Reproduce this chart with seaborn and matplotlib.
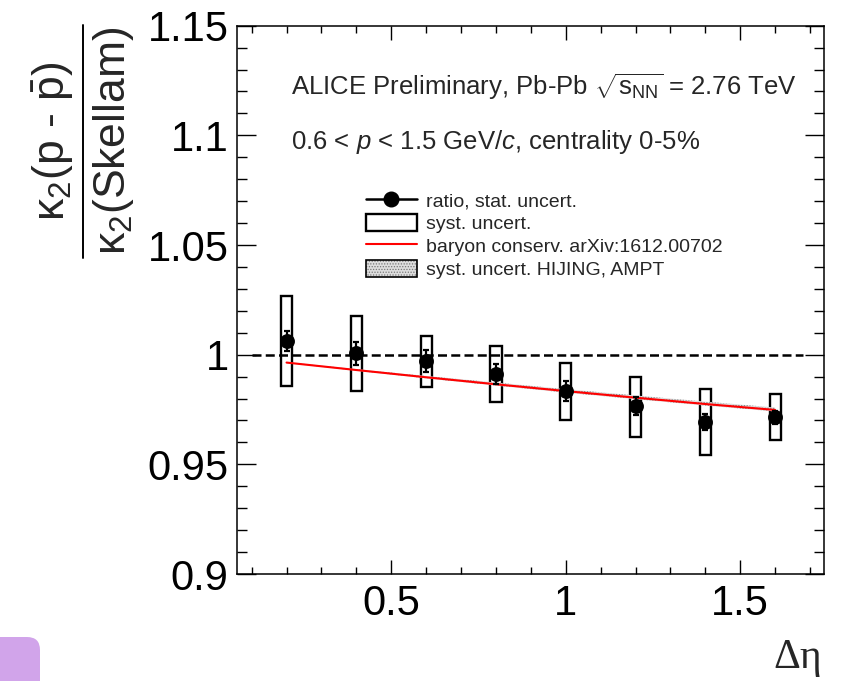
import numpy as np
import pandas as pd
import matplotlib
matplotlib.use("Agg")
import matplotlib.pyplot as plt
import seaborn as sns
from matplotlib.lines import Line2D
from matplotlib.patches import Patch, FancyBboxPatch
from matplotlib.legend_handler import HandlerTuple
from matplotlib.ticker import MultipleLocator, FixedLocator
from matplotlib.transforms import IdentityTransform

# ---------------- data ----------------
deta = [0.2, 0.4, 0.6, 0.8, 1.0, 1.2, 1.4, 1.6]
ratio = [1.0063, 1.0006, 0.9971, 0.9912, 0.9834, 0.9765, 0.9693, 0.9715]
stat_err = [0.0045, 0.0052, 0.0052, 0.0045, 0.0044, 0.0040, 0.0035, 0.0030]
syst_low = [0.9857, 0.9833, 0.9854, 0.9786, 0.9701, 0.9626, 0.9541, 0.9611]
syst_high = [1.0268, 1.0176, 1.0087, 1.0040, 0.9962, 0.9898, 0.9842, 0.9819]
baryon = [0.9964, 0.9930, 0.9897, 0.9865, 0.9834, 0.9804, 0.9775, 0.9748]
band_low = [0.9962, 0.9927, 0.9892, 0.9859, 0.9827, 0.9797, 0.9768, 0.9741]
band_high = [0.9966, 0.9934, 0.9903, 0.9873, 0.9843, 0.9814, 0.9786, 0.9759]
ref_x = [0.1, 1.68]
ref_y = [1.0, 1.0]
yticks = [0.9, 0.95, 1.0, 1.05, 1.1, 1.15]
ytick_labels = ["0.9", "0.95", "1", "1.05", "1.1", "1.15"]
xticks = [0.5, 1.0, 1.5]
xtick_labels = ["0.5", "1", "1.5"]
legend_labels = ["ratio, stat. uncert.", "syst. uncert.",
                 "baryon conserv. arXiv:1612.00702", "syst. uncert. HIJING, AMPT"]

df = pd.DataFrame({"deta": deta, "ratio": ratio, "stat": stat_err,
                   "slo": syst_low, "shi": syst_high, "baryon": baryon})

# ---------------- style ----------------
sns.set_theme(style="ticks")
plt.rcParams["font.family"] = ["Liberation Sans", "DejaVu Sans"]
plt.rcParams["mathtext.fontset"] = "custom"
plt.rcParams["mathtext.rm"] = "Liberation Sans"
plt.rcParams["mathtext.it"] = "Liberation Sans:italic"
plt.rcParams["mathtext.bf"] = "Liberation Sans:bold"
plt.rcParams["mathtext.sf"] = "Liberation Sans"
plt.rcParams["mathtext.default"] = "regular"
plt.rcParams["hatch.linewidth"] = 0.6

W, H = 846, 681
fig = plt.figure(figsize=(W / 100, H / 100), dpi=100)
fig.patch.set_facecolor("white")
ax = fig.add_axes([237 / W, 1 - 574 / H, (824 - 237) / W, (574 - 25.7) / H])
ax.set_facecolor("white")

# syst boxes
ax.bar(df["deta"], df["shi"] - df["slo"], bottom=df["slo"], width=0.032,
       fill=False, edgecolor="black", linewidth=1.7, zorder=2)

# model band
ax.fill_between(deta, band_low, band_high, facecolor="#dddddd",
                edgecolor="#888888", hatch="......", linewidth=0, zorder=3)
# baryon conservation line
sns.lineplot(data=df, x="deta", y="baryon", color="red", lw=1.5, ax=ax, zorder=4)

# reference dashed line
ax.plot(ref_x, ref_y, color="black", lw=1.8, linestyle=(0, (3.6, 1.7)), zorder=3)

# stat errors + points
ax.errorbar(deta, ratio, yerr=stat_err, fmt="none", ecolor="black",
            elinewidth=1.6, capsize=2, capthick=1.6, zorder=5)
sns.scatterplot(data=df, x="deta", y="ratio", color="black", s=115,
                edgecolor="black", linewidth=0, ax=ax, zorder=6)

# ---------------- axes ----------------
ax.set_xlim(0.058, 1.74)
ax.set_ylim(0.9, 1.15)
ax.xaxis.set_major_locator(FixedLocator(xticks))
ax.set_xticklabels(xtick_labels)
ax.yaxis.set_major_locator(FixedLocator(yticks))
ax.set_yticklabels(ytick_labels)
ax.xaxis.set_minor_locator(MultipleLocator(0.1))
ax.yaxis.set_minor_locator(MultipleLocator(0.01))
ax.set_xlabel("")
ax.set_ylabel("")
for s in ax.spines.values():
    s.set_visible(True)
    s.set_linewidth(1.1)
    s.set_color("black")
ax.tick_params(axis="both", which="both", direction="in", top=True, right=True,
               color="black", width=1.0, labelcolor="black")
ax.tick_params(axis="x", which="major", length=10, labelsize=30, pad=7)
ax.tick_params(axis="x", which="minor", length=5)
ax.tick_params(axis="y", which="major", length=14, labelsize=30, pad=6)
ax.tick_params(axis="y", which="minor", length=7)

# ---------------- legend ----------------
handles = [
    Line2D([], [], color="black", marker="o", markersize=10.5, lw=1.8),
    Patch(facecolor="white", edgecolor="black", linewidth=1.7),
    Line2D([], [], color="red", lw=1.5),
    (Patch(facecolor="#dddddd", edgecolor="#777777", hatch="......", linewidth=0),
     Patch(facecolor="none", edgecolor="black", linewidth=1.2)),
]
ax.legend(handles, legend_labels, loc="upper left",
          bbox_to_anchor=(366 / W, 1 - 191 / H), bbox_transform=fig.transFigure,
          frameon=False, fontsize=14, handlelength=2.6, handletextpad=0.5,
          labelspacing=0.2, borderpad=0, borderaxespad=0, handleheight=0.95,
          handler_map={tuple: HandlerTuple(ndivide=1, pad=0)})

# ---------------- texts ----------------
fig.text(291 / W, 1 - 87 / H,
         r"ALICE Preliminary, Pb-Pb $\sqrt{s_{NN}}$ = 2.76 TeV",
         fontsize=18.5, va="center", ha="left")
fig.text(291 / W, 1 - 142 / H,
         r"0.6 < $\mathit{p}$ < 1.5 GeV/$\mathit{c}$, centrality 0-5%",
         fontsize=18.5, va="center", ha="left")

fig.text(53 / W, 1 - 141 / H, r"$\kappa_{2}$(p - $\bar{p}$)", rotation=90,
         fontsize=32, ha="center", va="center")
fig.text(113 / W, 1 - 141 / H, r"$\kappa_{2}$(Skellam)", rotation=90,
         fontsize=32, ha="center", va="center")
fig.add_artist(Line2D([82.7 / W, 82.7 / W], [1 - 25 / H, 1 - 258 / H],
                      transform=fig.transFigure, color="black", lw=1.4))

fig.text(822 / W, 1 - 658 / H, "Δη", fontsize=30, ha="right", va="center",
         family=["Liberation Serif", "DejaVu Serif"])

# purple rounded corner at bottom left
fig.add_artist(FancyBboxPatch((-20, -20), 60, 64,
                              boxstyle="round,pad=0,rounding_size=13",
                              transform=IdentityTransform(),
                              facecolor="#d1a4ea", edgecolor="none"))

fig.savefig("out.png", dpi=100)
